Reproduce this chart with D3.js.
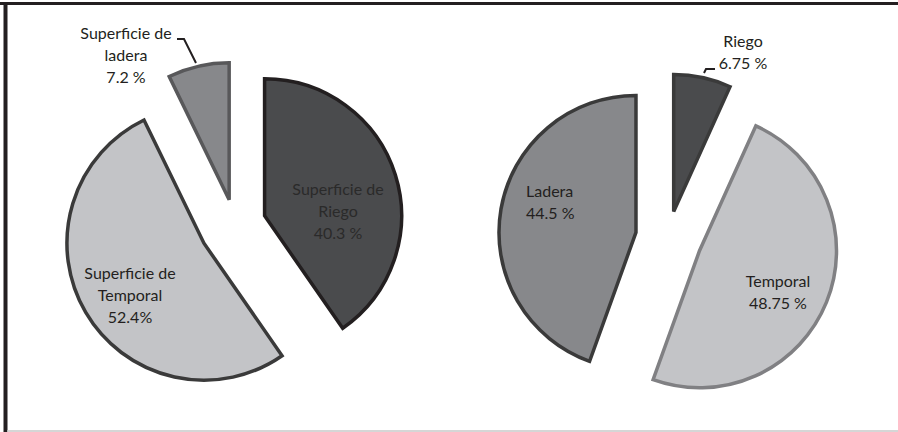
<!DOCTYPE html>
<html><head><meta charset="utf-8">
<script src="https://cdn.jsdelivr.net/npm/d3@7"></script>
<style>body{margin:0;background:#fff}svg{display:block}</style>
</head><body>
<script>
// Data
const leftCategories = ["Superficie de Riego", "Superficie de Temporal", "Superficie de ladera"];
const leftValues = [40.3, 52.4, 7.2];
const leftLabels = [["Superficie de", "Riego", "40.3  %"], ["Superficie de", "Temporal", "52.4%"], ["Superficie de", "ladera", "7.2 %"]];

const rightCategories = ["Riego", "Temporal", "Ladera"];
const rightValues = [6.75, 48.75, 44.5];
const rightLabels = [["Riego", "6.75 %"], ["Temporal", "48.75 %"], ["Ladera", "44.5 %"]];

const W = 898, H = 432;
const svg = d3.select("body").append("svg").attr("width", W).attr("height", H);

// frame
svg.append("line").attr("x1", 0).attr("x2", W).attr("y1", 3.5).attr("y2", 3.5).attr("stroke", "#231f20").attr("stroke-width", 3);
svg.append("line").attr("x1", 5.5).attr("x2", 5.5).attr("y1", 2).attr("y2", H).attr("stroke", "#231f20").attr("stroke-width", 4);
svg.append("line").attr("x1", 7).attr("x2", W).attr("y1", 431).attr("y2", 431).attr("stroke", "#c8c8c8").attr("stroke-width", 1.5);

const FONT = "Lato, 'Open Sans', sans-serif";
const pie = d3.pie().sort(null).value(d => d);
const R = 137;
const arc = d3.arc().innerRadius(0).outerRadius(R);

function drawPie(values, cfg) {
  const g = svg.append("g").attr("transform", `translate(${cfg.cx},${cfg.cy})`);
  const arcs = pie(values);
  arcs.forEach((a, i) => {
    const mid = (a.startAngle + a.endAngle) / 2;
    const dx = Math.sin(mid) * cfg.explode[i], dy = -Math.cos(mid) * cfg.explode[i];
    g.append("path")
      .attr("d", arc(a))
      .attr("transform", `translate(${dx},${dy})`)
      .attr("fill", cfg.fills[i])
      .attr("stroke", cfg.strokes[i])
      .attr("stroke-width", 3.5)
      .attr("stroke-linejoin", "miter");
  });
}

drawPie(leftValues, {
  cx: 235, cy: 225, explode: [31, 36, 26],
  fills: ["#4a4b4d", "#c3c4c7", "#87888b"],
  strokes: ["#231f20", "#3a3a3a", "#58585a"]
});
drawPie(rightValues, {
  cx: 668, cy: 238, explode: [27, 34, 32.5],
  fills: ["#4a4b4d", "#c3c4c7", "#87888b"],
  strokes: ["#3a3a3a", "#808083", "#3a3a3a"]
});

function label(lines, x, y, anchor, color) {
  const t = svg.append("text").attr("font-family", FONT).attr("font-size", 16)
    .attr("fill", color).attr("text-anchor", anchor);
  lines.forEach((l, i) => {
    t.append("tspan").attr("x", x).attr("y", y + i * 22).text(l);
  });
}

// left labels
label(leftLabels[0], 338, 195, "middle", "#2a2a2a");
label(leftLabels[1], 130, 279, "middle", "#231f20");
label(leftLabels[2], 126, 39, "middle", "#231f20");
svg.append("polyline").attr("points", "177,39 184,39 196,63").attr("fill", "none").attr("stroke", "#231f20").attr("stroke-width", 2);

// right labels
label(rightLabels[0], 743, 47, "middle", "#231f20");
label(rightLabels[2], 526, 197, "start", "#231f20");
label(rightLabels[1], 778, 287, "middle", "#231f20");
svg.append("polyline").attr("points", "715,69 706,69 704,73").attr("fill", "none").attr("stroke", "#231f20").attr("stroke-width", 2);
</script>
</body></html>
